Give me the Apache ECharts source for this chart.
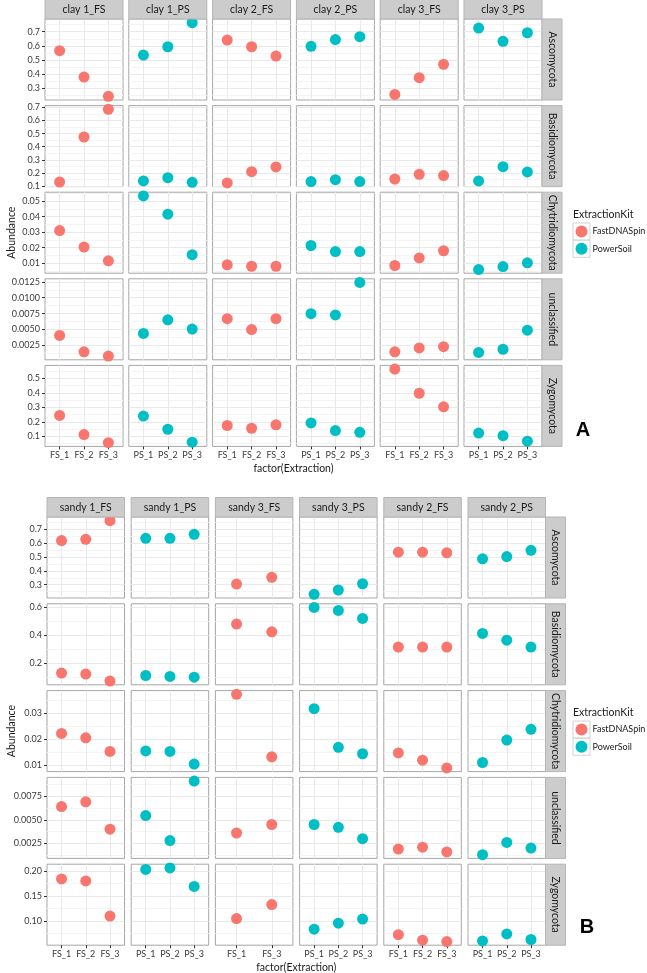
<!DOCTYPE html>
<html><head><meta charset="utf-8">
<script src="https://cdn.jsdelivr.net/npm/echarts@6/dist/echarts.min.js"></script>
<style>html,body{margin:0;padding:0;background:#fff}#c{width:647px;height:973px}</style>
</head><body><div id="c"></div>
<script>
// ---------- DATA ----------
const kitNames = ['FastDNASpin', 'PowerSoil'];
const rowNames = ['Ascomycota', 'Basidiomycota', 'Chytridiomycota', 'unclassified', 'Zygomycota'];

const fsCats = ['FS_1', 'FS_2', 'FS_3'];
const psCats = ['PS_1', 'PS_2', 'PS_3'];
const fs13Cats = ['FS_1', 'FS_3'];

// Panel A (clay)
const clayFacets = ['clay 1_FS', 'clay 1_PS', 'clay 2_FS', 'clay 2_PS', 'clay 3_FS', 'clay 3_PS'];
const clayKits = [0, 1, 0, 1, 0, 1];
const clayCats = [fsCats, psCats, fsCats, psCats, fsCats, psCats];
const clayAscomycota = [[0.566, 0.380, 0.244], [0.535, 0.594, 0.764], [0.641, 0.594, 0.528], [0.597, 0.645, 0.665], [0.257, 0.376, 0.470], [0.726, 0.632, 0.693]];
const clayBasidiomycota = [[0.130, 0.474, 0.686], [0.138, 0.163, 0.128], [0.123, 0.209, 0.245], [0.133, 0.148, 0.133], [0.153, 0.189, 0.179], [0.138, 0.247, 0.207]];
const clayChytridiomycota = [[0.0310, 0.0204, 0.0115], [0.0534, 0.0416, 0.0155], [0.0089, 0.0080, 0.0080], [0.0214, 0.0175, 0.0175], [0.0085, 0.0134, 0.0180], [0.0059, 0.0078, 0.0102]];
const clayUnclassified = [[0.00407, 0.00150, 0.00082], [0.00439, 0.00653, 0.00507], [0.0067, 0.0050, 0.0067], [0.0075, 0.0073, 0.0124], [0.0015, 0.0021, 0.0023], [0.0014, 0.0019, 0.0049]];
const clayZygomycota = [[0.245, 0.112, 0.056], [0.240, 0.149, 0.060], [0.175, 0.156, 0.180], [0.193, 0.140, 0.128], [0.565, 0.398, 0.304], [0.123, 0.105, 0.067]];
const clayTicks = [
  ['0.3', '0.4', '0.5', '0.6', '0.7'],
  ['0.1', '0.2', '0.3', '0.4', '0.5', '0.6', '0.7'],
  ['0.01', '0.02', '0.03', '0.04', '0.05'],
  ['0.0025', '0.0050', '0.0075', '0.0100', '0.0125'],
  ['0.1', '0.2', '0.3', '0.4', '0.5']
];

// Panel B (sandy)
const sandyFacets = ['sandy 1_FS', 'sandy 1_PS', 'sandy 3_FS', 'sandy 3_PS', 'sandy 2_FS', 'sandy 2_PS'];
const sandyKits = [0, 1, 0, 1, 0, 1];
const sandyCats = [fsCats, psCats, fs13Cats, psCats, fsCats, psCats];
const sandyAscomycota = [[0.617, 0.626, 0.760], [0.633, 0.633, 0.662], [0.305, 0.353], [0.231, 0.262, 0.307], [0.534, 0.534, 0.529], [0.486, 0.502, 0.547]];
const sandyBasidiomycota = [[0.129, 0.122, 0.072], [0.112, 0.105, 0.100], [0.477, 0.422], [0.595, 0.574, 0.517], [0.314, 0.314, 0.314], [0.411, 0.363, 0.314]];
const sandyChytridiomycota = [[0.0222, 0.0205, 0.0152], [0.0154, 0.0152, 0.0103], [0.0374, 0.0131], [0.0318, 0.0168, 0.0143], [0.0146, 0.0118, 0.0088], [0.0109, 0.0196, 0.0238]];
const sandyUnclassified = [[0.0064, 0.0069, 0.0040], [0.00545, 0.0028, 0.0091], [0.0036, 0.0045], [0.0045, 0.0042, 0.0030], [0.0019, 0.0021, 0.0016], [0.0013, 0.0026, 0.0020]];
const sandyZygomycota = [[0.184, 0.180, 0.110], [0.203, 0.206, 0.169], [0.105, 0.133], [0.084, 0.096, 0.104], [0.073, 0.062, 0.0594], [0.0606, 0.0746, 0.0634]];
const sandyTicks = [
  ['0.3', '0.4', '0.5', '0.6', '0.7'],
  ['0.2', '0.4', '0.6'],
  ['0.01', '0.02', '0.03'],
  ['0.0025', '0.0050', '0.0075'],
  ['0.10', '0.15', '0.20']
];

// ---------- STYLE / LAYOUT ----------
const FONT = 'Lato';
const kitColors = ['#F8766D', '#00BFC4'];
const panels = [
  { facets: clayFacets, kits: clayKits, cats: clayCats,
    rows: [clayAscomycota, clayBasidiomycota, clayChytridiomycota, clayUnclassified, clayZygomycota],
    ticks: clayTicks, left: 45, pitchX: 83.8, width: 78, top: 19, pitchY: 86.6, height: 81,
    letter: 'A', letterX: 583, letterY: 430, legendTop: 207 },
  { facets: sandyFacets, kits: sandyKits, cats: sandyCats,
    rows: [sandyAscomycota, sandyBasidiomycota, sandyChytridiomycota, sandyUnclassified, sandyZygomycota],
    ticks: sandyTicks, left: 47, pitchX: 84.2, width: 77.5, top: 517, pitchY: 86.8, height: 81,
    letter: 'B', letterX: 587, letterY: 927, legendTop: 705 }
];

const grids = [], xAxes = [], yAxes = [], series = [], graphics = [], legends = [];

panels.forEach(p => {
  const nCol = p.facets.length, nRow = p.rows.length;
  const rightEdge = p.left + (nCol - 1) * p.pitchX + p.width;
  const bottomEdge = p.top + (nRow - 1) * p.pitchY + p.height;
  p.rows.forEach((rowData, r) => {
    const all = rowData.flat();
    const lo = Math.min(...all), hi = Math.max(...all), pad = (hi - lo) * 0.05;
    const ymin = lo - pad, ymax = hi + pad;
    const labels = p.ticks[r];
    const majors = labels.map(Number);
    const step = majors[1] - majors[0];
    const minors = [];
    for (let k = Math.floor((ymin - majors[0]) / step) - 1; k <= Math.ceil((ymax - majors[0]) / step) + 1; k++) {
      const v = majors[0] + (k + 0.5) * step;
      if (v > ymin && v < ymax) minors.push(v);
    }
    const top = p.top + r * p.pitchY;
    rowData.forEach((vals, c) => {
      const left = p.left + c * p.pitchX;
      const gi = grids.length;
      const isLeft = c === 0, isBottom = r === nRow - 1;
      grids.push({ left: left, top: top, width: p.width, height: p.height, show: true,
        borderColor: '#a6a6a6', borderWidth: 1, backgroundColor: '#ffffff', containLabel: false, outerBoundsMode: 'none' });
      const cats = p.cats[c];
      const xs = cats.map((_, i) => i + 1);
      xAxes.push({ type: 'value', gridIndex: gi, min: 0.4, max: cats.length + 0.6,
        axisLine: { show: false },
        axisTick: { show: isBottom, customValues: xs, length: 3, lineStyle: { color: '#333' } },
        axisLabel: { show: isBottom, customValues: xs, formatter: v => cats[Math.round(v) - 1] || '',
          fontSize: 9, color: '#3a3a3a', margin: 4, fontFamily: FONT },
        splitLine: { show: true, lineStyle: { color: '#e9e9e9', width: 1 } }, z: 1 });
      yAxes.push({ type: 'value', gridIndex: gi, min: ymin, max: ymax, position: 'left',
        axisLine: { show: false }, axisTick: { show: false, customValues: minors },
        axisLabel: { show: false, customValues: minors },
        splitLine: { show: true, lineStyle: { color: '#f4f4f4', width: 1 } }, z: 0 });
      const majorIdx = yAxes.length;
      yAxes.push({ type: 'value', gridIndex: gi, min: ymin, max: ymax, position: 'left',
        axisLine: { show: false },
        axisTick: { show: isLeft, customValues: majors, length: 3, lineStyle: { color: '#333' } },
        axisLabel: { show: isLeft, customValues: majors, fontSize: 9, color: '#3a3a3a', margin: 5, fontFamily: FONT,
          formatter: v => { const i = majors.findIndex(m => Math.abs(m - v) < step * 1e-6); return i >= 0 ? labels[i] : ''; } },
        splitLine: { show: true, lineStyle: { color: '#e9e9e9', width: 1 } }, z: 1 });
      const k = p.kits[c];
      series.push({ type: 'scatter', name: kitNames[k], xAxisIndex: gi, yAxisIndex: majorIdx,
        data: vals.map((v, i) => [i + 1, v]), symbolSize: 11, clip: false, silent: true,
        itemStyle: { color: kitColors[k], opacity: 1 }, z: 5 });
      if (r === 0) {
        graphics.push({ type: 'rect', shape: { x: left, y: p.top - 19.5, width: p.width, height: 19.5 },
          style: { fill: '#cccccc', stroke: '#b5b5b5', lineWidth: 1 }, z: 10 });
        graphics.push({ type: 'text', x: left + p.width / 2, y: p.top - 9.75,
          style: { text: p.facets[c], font: '10.5px ' + FONT, fill: '#1a1a1a', textAlign: 'center', textVerticalAlign: 'middle' }, z: 11 });
      }
    });
    graphics.push({ type: 'rect', shape: { x: rightEdge, y: top, width: 20, height: p.height },
      style: { fill: '#cccccc', stroke: '#b5b5b5', lineWidth: 1 }, z: 10 });
    graphics.push({ type: 'text', x: rightEdge + 10, y: top + p.height / 2, rotation: -Math.PI / 2,
      style: { text: rowNames[r], font: '10.5px ' + FONT, fill: '#1a1a1a', textAlign: 'center', textVerticalAlign: 'middle' }, z: 11 });
  });
  graphics.push({ type: 'text', x: 12, y: (p.top + bottomEdge) / 2, rotation: Math.PI / 2,
    style: { text: 'Abundance', font: '10.5px ' + FONT, fill: '#1a1a1a', textAlign: 'center', textVerticalAlign: 'middle' } });
  graphics.push({ type: 'text', x: (p.left + rightEdge) / 2, y: bottomEdge + 22,
    style: { text: 'factor(Extraction)', font: '10.5px ' + FONT, fill: '#1a1a1a', textAlign: 'center', textVerticalAlign: 'middle' } });
  graphics.push({ type: 'text', x: p.letterX, y: p.letterY,
    style: { text: p.letter, font: 'bold 20px Liberation Sans', fill: '#000', textAlign: 'center', textVerticalAlign: 'middle' } });
  graphics.push({ type: 'text', x: 573, y: p.legendTop + 8,
    style: { text: 'ExtractionKit', font: '10.5px ' + FONT, fill: '#1a1a1a', textAlign: 'left', textVerticalAlign: 'middle' } });
  for (let i = 0; i < 2; i++) {
    graphics.push({ type: 'rect', shape: { x: 573, y: p.legendTop + 16 + i * 17.3, width: 17, height: 17 },
      style: { fill: '#ffffff', stroke: '#d2d2d2', lineWidth: 1 }, z: 0 });
  }
  legends.push({ data: kitNames, orient: 'vertical', left: 575.5, top: p.legendTop + 18.5, padding: 0,
    itemWidth: 12, itemHeight: 12, itemGap: 5.3, itemTextGap: 5, icon: 'circle', selectedMode: false,
    textStyle: { fontSize: 9, color: '#1a1a1a', fontFamily: FONT } });
});

const chart = echarts.init(document.getElementById('c'), null, { renderer: 'canvas' });
chart.setOption({
  animation: false,
  backgroundColor: '#ffffff',
  textStyle: { fontFamily: FONT },
  grid: grids, xAxis: xAxes, yAxis: yAxes, series: series, legend: legends, graphic: graphics
});
</script></body></html>
